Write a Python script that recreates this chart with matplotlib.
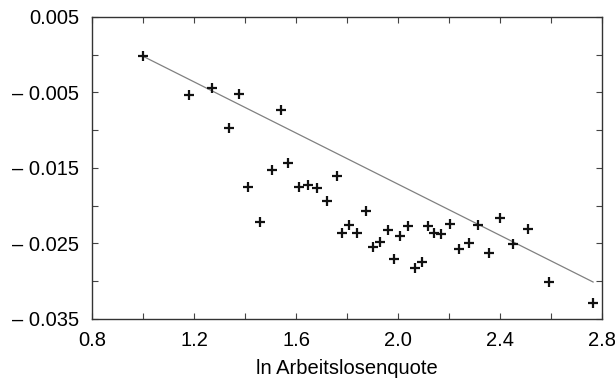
import numpy as np
import matplotlib
matplotlib.use('Agg')
import matplotlib.pyplot as plt
from matplotlib.ticker import MultipleLocator

plt.rcParams['font.family'] = ['Liberation Sans', 'DejaVu Sans']

# data
x = [1.0, 1.18, 1.27, 1.376, 1.337, 1.541, 1.41, 1.459, 1.506, 1.569,
     1.612, 1.647, 1.682, 1.722, 1.761, 1.78, 1.808, 1.839, 1.875, 1.902,
     1.929, 1.961, 1.984, 2.008, 2.039, 2.067, 2.094, 2.118, 2.141, 2.169,
     2.204, 2.239, 2.278, 2.314, 2.357, 2.4, 2.451, 2.51, 2.592, 2.765]
y = [-0.0002, -0.0053, -0.0044, -0.0052, -0.0097, -0.0073, -0.0175, -0.0222, -0.0153, -0.0143,
     -0.0175, -0.0173, -0.0177, -0.0194, -0.0161, -0.0236, -0.0225, -0.0236, -0.0207, -0.0255,
     -0.0248, -0.0232, -0.0271, -0.0240, -0.0227, -0.0282, -0.0274, -0.0227, -0.0236, -0.0237,
     -0.0224, -0.0257, -0.0249, -0.0225, -0.0262, -0.0216, -0.0251, -0.0231, -0.0301, -0.0329]

# regression line end points
line_x = [1.0, 2.765]
line_y = [-0.0002, -0.0301]

xticks = [0.8, 1.2, 1.6, 2.0, 2.4, 2.8]
xlabels = ['0.8', '1.2', '1.6', '2.0', '2.4', '2.8']
yticks = [0.005, -0.005, -0.015, -0.025, -0.035]
ylabels = ['0.005', '\u2013 0.005', '\u2013 0.015', '\u2013 0.025', '\u2013 0.035']

fig = plt.figure(figsize=(6.15, 3.82), dpi=100)
ax = fig.add_axes([92/615, 1-319/382, 510/615, 302/382])

ax.plot(line_x, line_y, color='#808080', lw=0.9)
ax.plot(x, y, ls='none', marker='+', ms=7.5, mew=1.6, color='#111111')

ax.set_xlim(0.8, 2.8)
ax.set_ylim(-0.035, 0.005)
ax.set_xticks(xticks)
ax.set_xticklabels(xlabels)
ax.set_yticks(yticks)
ax.set_yticklabels(ylabels)
ax.xaxis.set_minor_locator(MultipleLocator(0.2))
ax.yaxis.set_minor_locator(MultipleLocator(0.005))

ax.tick_params(which='both', direction='in', top=True, right=True,
               length=4, width=0.8, color='#444444', labelsize=14.5)
ax.tick_params(axis='x', pad=9)
ax.tick_params(axis='y', pad=9)

for s in ax.spines.values():
    s.set_color('#333333')
    s.set_linewidth(1.0)

ax.set_xlabel('ln Arbeitslosenquote', fontsize=14.5, labelpad=6)

plt.savefig('out.png', dpi=100)
